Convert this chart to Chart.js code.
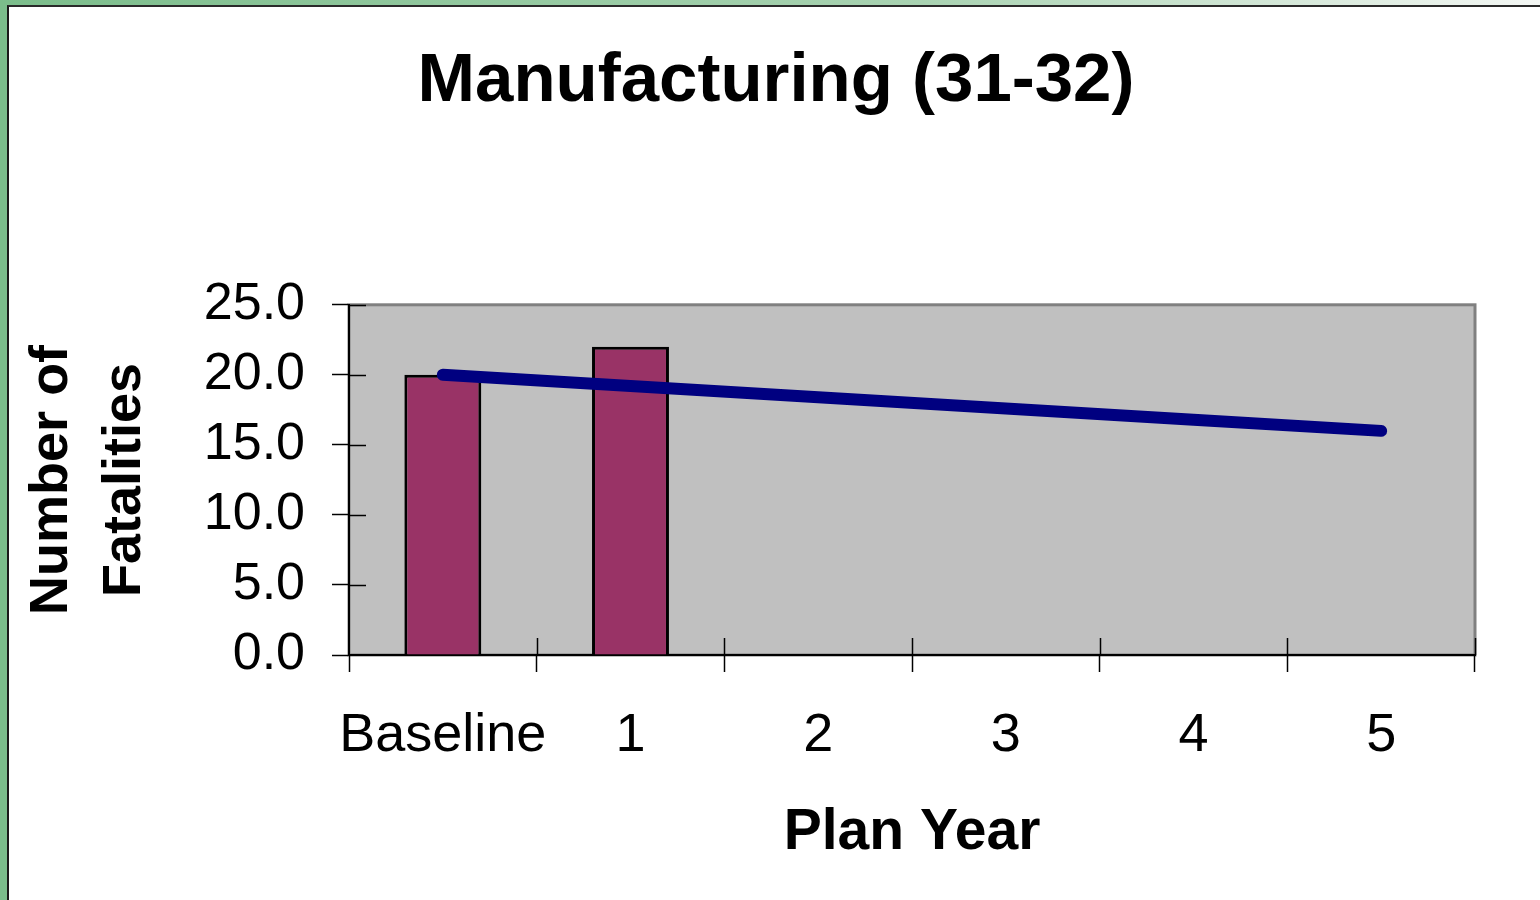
<!DOCTYPE html>
<html>
<head>
<meta charset="utf-8">
<title>Manufacturing (31-32)</title>
<script src="https://cdn.jsdelivr.net/npm/chart.js@4"></script>
<style>
    html, body {
        margin: 0;
        padding: 0;
        overflow: hidden;
        background: #ffffff;
    }
    #frame-left {
        position: absolute; left: 0; top: 0; width: 7px; height: 900px;
        background: #7bbd8b;
    }
    #frame-top {
        position: absolute; left: 0; top: 0; width: 1540px; height: 5px;
        background: linear-gradient(to right, #7bbd8b, #a9d3b2 60%, #f4f7f4);
    }
    #frame-line {
        position: absolute; left: 7px; top: 5px; width: 1533px; height: 895px;
        border-left: 2px solid #1a1a1a; border-top: 2px solid #2a2a2a;
        box-sizing: border-box;
    }
    #wrap {
        position: absolute; left: 0; top: 0; width: 1540px; height: 900px;
    }
</style>
</head>
<body>
<div id="frame-left"></div>
<div id="frame-top"></div>
<div id="frame-line"></div>
<div id="wrap"><canvas id="myChart" width="1540" height="900"></canvas></div>

<script>
// values
var planYears = ["Baseline", "1", "2", "3", "4", "5"];
var fatalities = [20, 22, null, null, null, null];
var goalLine = [20.0, 19.2, 18.4, 17.6, 16.8, 16.0];
var yTicks = [0, 5, 10, 15, 20, 25];

var barColor = "#993366";
var lineColor = "#000080";
var plotColor = "#c0c0c0";
var fontFamily = "'Liberation Sans', Arial, sans-serif";

// gray plot area with a gray frame
var plotBackground = {
    id: "plotBackground",
    beforeDraw: function (chart) {
        var ctx = chart.ctx;
        var a = chart.chartArea;
        ctx.save();
        ctx.fillStyle = plotColor;
        ctx.fillRect(a.left, a.top, a.right - a.left, a.bottom - a.top);
        ctx.strokeStyle = "#808080";
        ctx.lineWidth = 3;
        ctx.strokeRect(a.left, a.top, a.right - a.left, a.bottom - a.top);
        ctx.restore();
    }
};

// excel style tick marks that cross the axis: the inner half
var crossTicks = {
    id: "crossTicks",
    beforeDatasetsDraw: function (chart) {
        var ctx = chart.ctx;
        var x = chart.scales.x;
        var y = chart.scales.y;
        var len = 17;
        ctx.save();
        ctx.strokeStyle = "#000000";
        ctx.lineWidth = 1.5;
        ctx.beginPath();
        for (var i = 1; i <= planYears.length; i++) {
            var px = Math.round(x.getPixelForValue(i - 0.5)) + 0.5;
            ctx.moveTo(px, y.bottom);
            ctx.lineTo(px, y.bottom - len);
        }
        for (var j = 1; j < yTicks.length; j++) {
            var py = Math.round(y.getPixelForValue(yTicks[j])) + 0.5;
            ctx.moveTo(x.left, py);
            ctx.lineTo(x.left + len, py);
        }
        ctx.stroke();
        ctx.restore();
    }
};

var chartData = {
    labels: planYears,
    datasets: [{
        type: "line",
        label: "Goal",
        data: goalLine,
        borderColor: lineColor,
        backgroundColor: lineColor,
        borderWidth: 12,
        borderCapStyle: "round",
        borderJoinStyle: "round",
        pointRadius: 0,
        tension: 0,
        order: 0
    }, {
        type: "bar",
        label: "Fatalities",
        data: fatalities,
        backgroundColor: barColor,
        borderColor: "#000000",
        borderWidth: 3,
        categoryPercentage: 1,
        barPercentage: 0.41,
        order: 1
    }]
};

var graph = new Chart(document.getElementById("myChart"), {
    type: "bar",
    data: chartData,
    plugins: [plotBackground, crossTicks],
    options: {
        responsive: false,
        animation: false,
        events: [],
        layout: {
            padding: { left: 77, right: 65, top: 0, bottom: 0 }
        },
        plugins: {
            legend: { display: false },
            tooltip: { enabled: false },
            title: {
                display: true,
                text: "Manufacturing (31-32)",
                color: "#000000",
                font: { family: fontFamily, size: 69, weight: "bold", lineHeight: 1.2 },
                padding: { top: 41, bottom: 181 }
            }
        },
        scales: {
            x: {
                offset: true,
                grid: {
                    offset: true,
                    drawOnChartArea: false,
                    tickLength: 17,
                    tickWidth: 1.5,
                    tickColor: "#000000"
                },
                border: { color: "#000000", width: 2 },
                ticks: {
                    color: "#000000",
                    padding: 32,
                    autoSkip: false,
                    maxRotation: 0,
                    font: { family: fontFamily, size: 54 }
                },
                title: {
                    display: true,
                    text: "Plan Year",
                    color: "#000000",
                    font: { family: fontFamily, size: 57, weight: "bold", lineHeight: 1.2 },
                    padding: { top: 0, bottom: 33 }
                },
                afterFit: function (scale) {
                    scale.height = 245;
                }
            },
            y: {
                min: 0,
                max: 25,
                grid: {
                    drawOnChartArea: false,
                    tickLength: 17,
                    tickWidth: 1.5,
                    tickColor: "#000000"
                },
                border: { color: "#000000", width: 2 },
                ticks: {
                    stepSize: 5,
                    color: "#000000",
                    padding: 27,
                    font: { family: fontFamily, size: 52 },
                    callback: function (value) {
                        return Number(value).toFixed(1);
                    }
                },
                title: {
                    display: true,
                    text: ["Number of", "Fatalities"],
                    color: "#000000",
                    font: { family: fontFamily, size: 54, weight: "bold", lineHeight: 1.35 },
                    padding: { top: -61, bottom: 0 }
                },
                afterFit: function (scale) {
                    scale.width = 272;
                }
            }
        }
    }
});
</script>
</body>
</html>
